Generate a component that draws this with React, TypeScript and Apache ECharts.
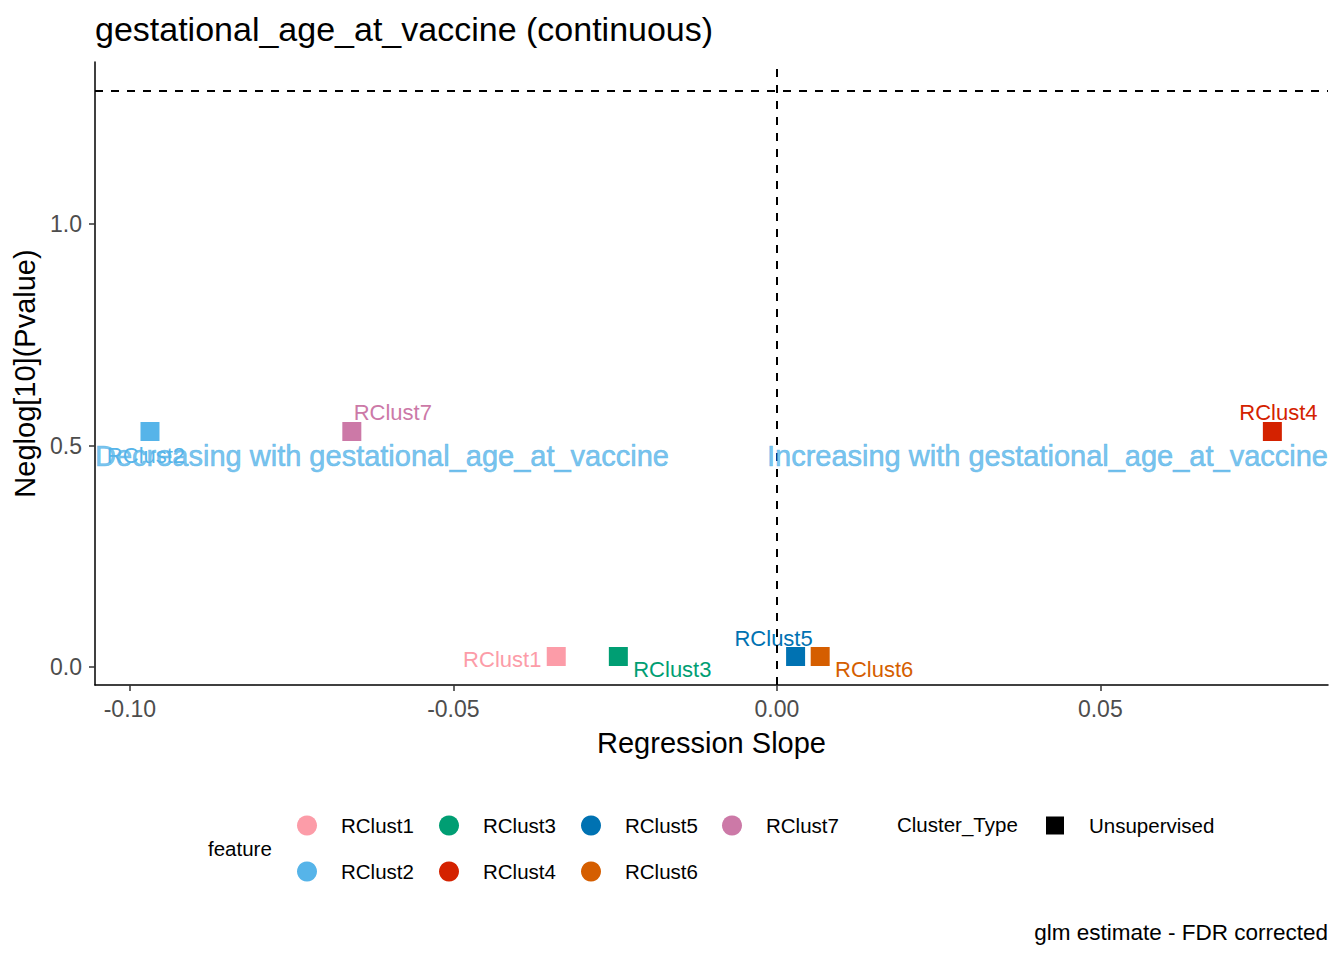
import React, { useEffect, useRef } from "react";
import * as echarts from "echarts";

const clusters = ["RClust1", "RClust2", "RClust3", "RClust4", "RClust5", "RClust6", "RClust7"];
const slopes = [-0.0341, -0.0969, -0.0245, 0.0766, 0.0029, 0.0067, -0.0657];
const negLogP = [0.0237, 0.5316, 0.0237, 0.5316, 0.0237, 0.0237, 0.5316];
const colors = ["#FC9CA8", "#56B4E9", "#009E73", "#D42200", "#0072B2", "#D55E00", "#CC79A7"];
const labelOffsets: [number, number][] = [
  [-54, 3], [-4, 24], [54, 13], [6, -19], [-22, -18], [54, 13], [41, -19],
];

const xTicks = [-0.1, -0.05, 0, 0.05];
const yTicks = [0, 0.5, 1.0];
const xRange = [-0.1054, 0.0852];
const yRange = [-0.0406, 1.3657];
const pThreshold = 1.30103;

const annotTexts = ["Decreasing with gestational_age_at_vaccine", "Increasing with gestational_age_at_vaccine"];
const annotX = [-0.1054, 0.0852];
const annotY = [0.476, 0.476];

const legendRow1 = ["RClust1", "RClust3", "RClust5", "RClust7"];
const legendRow2 = ["RClust2", "RClust4", "RClust6"];

const FONT = "'Liberation Sans', Arial, sans-serif";

export default function App() {
  const ref = useRef<HTMLDivElement>(null);
  useEffect(() => {
    if (!ref.current) return;
    const chart = echarts.init(ref.current, undefined, { renderer: "svg" });

    const series: any[] = clusters.map((c, i) => ({
      type: "scatter",
      name: c,
      symbol: "rect",
      symbolSize: 19,
      itemStyle: { color: colors[i], opacity: 1 },
      data: [[slopes[i], negLogP[i]]],
      z: 3,
      label: {
        show: true,
        formatter: c,
        position: "inside",
        offset: labelOffsets[i],
        color: colors[i],
        fontSize: 22,
        fontFamily: FONT,
        align: "center",
        verticalAlign: "middle",
      },
      markLine:
        i === 0
          ? {
              silent: true,
              symbol: "none",
              label: { show: false },
              lineStyle: { color: "#000", type: [8, 8], width: 2 },
              data: [{ xAxis: 0 }, { yAxis: pThreshold }],
            }
          : undefined,
    }));

    series.push({
      type: "scatter",
      name: "Unsupervised",
      data: [],
      itemStyle: { color: "#000", opacity: 1 },
    });

    series.push({
      type: "scatter",
      name: "annot",
      symbolSize: 0,
      silent: true,
      z: 5,
      data: annotTexts.map((t, i) => ({
        value: [annotX[i], annotY[i]],
        label: {
          show: true,
          formatter: t,
          position: "inside",
          align: i === 0 ? "left" : "right",
          verticalAlign: "middle",
          color: "#56B4E9",
          textBorderColor: "#56B4E9",
          textBorderWidth: 0.6,
          fontSize: 29,
          fontFamily: FONT,
        },
      })),
    });

    const legendColLeft = [297, 439, 581, 722];
    const legends: any[] = [];
    legendRow1.forEach((name, i) => {
      legends.push({ data: [{ name, icon: "circle" }], left: legendColLeft[i], top: 815 });
    });
    legendRow2.forEach((name, i) => {
      legends.push({ data: [{ name, icon: "circle" }], left: legendColLeft[i], top: 861 });
    });
    legends.push({
      data: [{ name: "Unsupervised", icon: "path://M0,0 H10 V10 H0 Z", itemStyle: { color: "#000", opacity: 1 } }],
      left: 1046,
      top: 815,
      itemHeight: 18,
    });
    const legendCommon = {
      orient: "horizontal",
      padding: 0,
      itemWidth: 58,
      itemHeight: 20,
      selectedMode: false,
      textStyle: { fontSize: 20.5, color: "#000", fontFamily: FONT },
    };

    chart.setOption({
      animation: false,
      backgroundColor: "#fff",
      textStyle: { fontFamily: FONT },
      grid: { left: 95, right: 16, top: 62, bottom: 275, containLabel: false },
      xAxis: {
        type: "value",
        min: xRange[0],
        max: xRange[1],
        name: "Regression Slope",
        nameLocation: "middle",
        nameGap: 43,
        nameTextStyle: { fontSize: 29, color: "#000", fontFamily: FONT },
        splitLine: { show: false },
        axisLine: { show: true, onZero: false, lineStyle: { color: "#000", width: 1.5 } },
        axisTick: { show: true, length: 6, lineStyle: { color: "#333", width: 1.5 }, customValues: xTicks },
        axisLabel: {
          customValues: xTicks,
          margin: 12,
          fontSize: 23,
          color: "#4D4D4D",
          fontFamily: FONT,
          formatter: (v: number) => (v < 0 ? "-" : "") + Math.abs(v).toFixed(2),
        },
      },
      yAxis: {
        type: "value",
        min: yRange[0],
        max: yRange[1],
        name: "Neglog[10](Pvalue)",
        nameLocation: "middle",
        nameGap: 52,
        nameTextStyle: { fontSize: 29, color: "#000", fontFamily: FONT },
        splitLine: { show: false },
        axisLine: { show: true, onZero: false, lineStyle: { color: "#000", width: 1.5 } },
        axisTick: { show: true, length: 6, lineStyle: { color: "#333", width: 1.5 }, customValues: yTicks },
        axisLabel: {
          customValues: yTicks,
          margin: 13,
          fontSize: 23,
          color: "#4D4D4D",
          fontFamily: FONT,
          formatter: (v: number) => v.toFixed(1),
        },
      },
      legend: legends.map((l) => ({ ...legendCommon, ...l })),
      graphic: [
        {
          type: "text",
          left: 95,
          top: 12,
          style: { text: "gestational_age_at_vaccine (continuous)", fontSize: 34, fill: "#000", fontFamily: FONT },
        },
        {
          type: "text",
          left: 208,
          top: 838,
          style: { text: "feature", fontSize: 20.5, fill: "#000", fontFamily: FONT },
        },
        {
          type: "text",
          left: 897,
          top: 814,
          style: { text: "Cluster_Type", fontSize: 20.5, fill: "#000", fontFamily: FONT },
        },
        {
          type: "text",
          right: 16,
          top: 921,
          style: { text: "glm estimate - FDR corrected", fontSize: 22.5, fill: "#000", fontFamily: FONT },
        },
      ],
      series,
    });
    return () => chart.dispose();
  }, []);
  return <div ref={ref} style={{ width: 1344, height: 960, margin: -8 }} />;
}
